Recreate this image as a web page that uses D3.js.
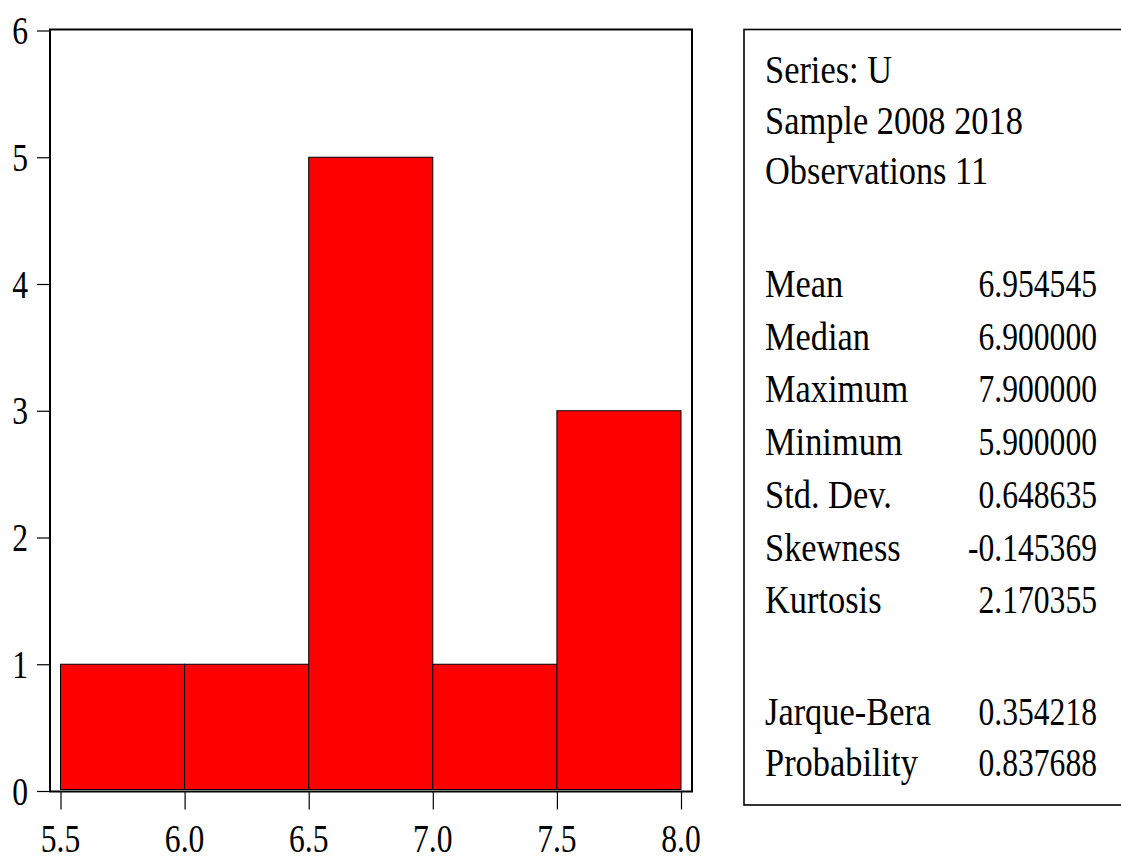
<!DOCTYPE html>
<html>
<head>
<meta charset="utf-8">
<script src="https://cdn.jsdelivr.net/npm/d3@7"></script>
<style>
  html, body { margin: 0; padding: 0; background: #fff; }
  svg { display: block; }
  text { font-family: "Liberation Serif", "Times New Roman", serif; fill: #000; }
</style>
</head>
<body>
<svg id="chart" width="1121" height="857"></svg>
<script>
// Histogram bins for series U
const binStarts = [5.5, 6.0, 6.5, 7.0, 7.5];
const binWidth = 0.5;
const counts = [1, 1, 5, 1, 3];

// Axis ticks
const xTicks = [5.5, 6.0, 6.5, 7.0, 7.5, 8.0];
const yTicks = [0, 1, 2, 3, 4, 5, 6];

// Descriptive statistics panel
const headerLines = ["Series: U", "Sample 2008 2018", "Observations 11"];
const statLabels = ["Mean", "Median", "Maximum", "Minimum", "Std. Dev.", "Skewness", "Kurtosis"];
const statValues = ["6.954545", "6.900000", "7.900000", "5.900000", "0.648635", "-0.145369", "2.170355"];
const testLabels = ["Jarque-Bera", "Probability"];
const testValues = ["0.354218", "0.837688"];

const svg = d3.select("#chart");
const FONT = 40;
const SX_TEXT = 0.86; // narrow face for words
const SX_NUM = 0.79;  // narrower figures

const frame = { left: 50, right: 692, top: 29.5, bottom: 791.5 };

const x = d3.scaleLinear().domain([5.5, 8.0]).range([60.5, 681]);
const y = d3.scaleLinear().domain([0, 6]).range([791, 30.5]);

function label(g, tx, ty, str, anchor, sx) {
  return g.append("text")
    .attr("transform", `translate(${tx},${ty}) scale(${sx},1)`)
    .attr("text-anchor", anchor || "start")
    .attr("font-size", FONT)
    .text(str);
}

// Bars
svg.append("g").selectAll("rect")
  .data(binStarts.map((s, i) => ({ s, c: counts[i] })))
  .join("rect")
  .attr("x", d => x(d.s))
  .attr("width", d => x(d.s + binWidth) - x(d.s))
  .attr("y", d => y(d.c))
  .attr("height", d => y(0) - 1.5 - y(d.c))
  .attr("fill", "#ff0000")
  .attr("stroke", "#000")
  .attr("stroke-width", 1);

// Plot frame
svg.append("rect")
  .attr("x", frame.left).attr("y", frame.top)
  .attr("width", frame.right - frame.left)
  .attr("height", frame.bottom - frame.top)
  .attr("fill", "none").attr("stroke", "#000").attr("stroke-width", 2);

// Y axis ticks
const yAxis = d3.axisLeft(y).tickValues(yTicks).tickSize(13).tickFormat("");
svg.append("g").attr("transform", `translate(${frame.left},0)`).call(yAxis)
  .call(g => g.select(".domain").remove())
  .call(g => g.selectAll(".tick line").attr("stroke", "#000").attr("stroke-width", 1.2));

const yl = svg.append("g");
yTicks.forEach(t => label(yl, 28, y(t) + 13.5, d3.format("d")(t), "end", SX_NUM));

// X axis ticks
const xAxis = d3.axisBottom(x).tickValues(xTicks).tickSize(18).tickFormat("");
svg.append("g").attr("transform", `translate(0,${frame.bottom})`).call(xAxis)
  .call(g => g.select(".domain").remove())
  .call(g => g.selectAll(".tick line").attr("stroke", "#000").attr("stroke-width", 1.2));

const xl = svg.append("g");
xTicks.forEach(t => label(xl, x(t), 852, d3.format(".1f")(t), "middle", SX_NUM));

// Statistics panel
const panel = svg.append("g");
panel.append("rect")
  .attr("x", 744).attr("y", 29.5)
  .attr("width", 400).attr("height", 805 - 29.5)
  .attr("fill", "none").attr("stroke", "#000").attr("stroke-width", 1.6);

const labelX = 765, valueX = 1097;
headerLines.forEach((s, i) => label(panel, labelX, 83 + i * 50.5, s, "start", SX_TEXT));
statLabels.forEach((s, i) => {
  const by = 297 + i * 52.7;
  label(panel, labelX, by, s, "start", SX_TEXT);
  label(panel, valueX, by, statValues[i], "end", SX_NUM);
});
testLabels.forEach((s, i) => {
  const by = 725 + i * 50.5;
  label(panel, labelX, by, s, "start", SX_TEXT);
  label(panel, valueX, by, testValues[i], "end", SX_NUM);
});
</script>
</body>
</html>
